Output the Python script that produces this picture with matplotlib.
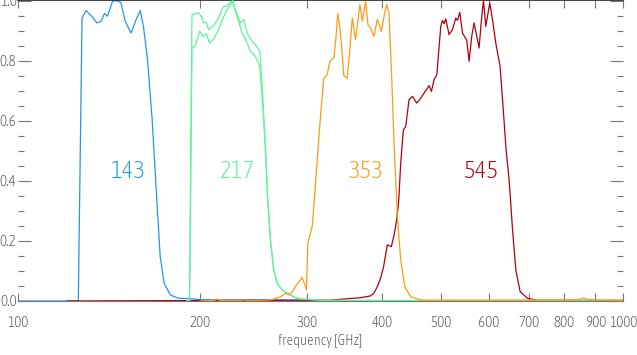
import matplotlib
matplotlib.use("Agg")
import matplotlib.pyplot as plt
from matplotlib.ticker import FixedLocator, MultipleLocator, NullLocator
import matplotlib.font_manager as fm

# ---------------- data ----------------
f143 = [100, 125.0, 125.8, 127.6, 129.6, 132.4, 135.0, 137.1, 139.0, 140.6, 143.3, 145.3,
        147.9, 150.4, 153.7, 156.8, 159.2, 161.2, 163.7, 166.5, 169.6, 171.8, 174.4,
        178.6, 184.3, 192.7, 200.1, 260, 330, 1000]
t143 = [0.0, 0.0, 0.003, 0.942, 0.967, 0.948, 0.926, 0.931, 0.957, 0.948, 0.998, 1.0,
        0.994, 0.931, 0.892, 0.937, 0.967, 0.914, 0.803, 0.614, 0.337, 0.148, 0.059,
        0.020, 0.009, 0.008, 0.004, 0.004, 0.001, 0.001]

f217a = [190.0, 192.1, 193.9, 198.9, 201.5, 202.7, 204.8, 206.6, 210.6, 214.6, 218.2,
         221.6, 224.4, 226.4, 228.7, 233.1, 236.1, 239.2, 243.8, 246.9, 251.0, 253.3,
         256.5, 258.7, 261.4, 264.7, 268.1, 273.3, 278.6, 287.5, 293.0, 320, 1000]
t217a = [0.0, 0.0, 0.953, 0.959, 0.942, 0.926, 0.928, 0.903, 0.917, 0.942, 0.979,
         0.983, 0.994, 1.0, 0.970, 0.926, 0.937, 0.892, 0.864, 0.853, 0.831, 0.714,
         0.503, 0.337, 0.203, 0.103, 0.059, 0.037, 0.026, 0.011, 0.007, 0.002, 0.0]

f217b = [190.0, 192.1, 193.9, 196.3, 199.6, 202.2, 204.8, 207.2, 210.6, 214.6, 217.4,
         220.2, 224.4, 226.4, 230.2, 234.7, 239.2, 242.2, 246.9, 251.0, 254.2,
         256.5, 258.7, 261.4, 264.7, 268.1, 273.3, 278.6, 287.5, 293.0, 320, 1000]
t217b = [0.0, 0.0, 0.842, 0.848, 0.898, 0.881, 0.890, 0.859, 0.872, 0.903, 0.934,
         0.959, 0.987, 0.997, 0.948, 0.892, 0.859, 0.831, 0.814, 0.781, 0.633,
         0.503, 0.337, 0.203, 0.103, 0.059, 0.037, 0.026, 0.011, 0.007, 0.002, 0.0]

f353 = [200, 211, 213, 216, 233, 236, 240, 262, 271.6, 276.8, 280.3, 284.0, 287.5, 291.2,
        294.9, 298.7, 299.8, 301.3, 306.4, 308.3, 312.3, 316.2, 320.2, 324.4, 327.6,
        332.7, 334.8, 337.8, 341.3, 345.6, 350.1, 353.6, 356.9, 361.4, 367.4, 370.8,
        375.5, 378.8, 382.7, 387.5, 392.6, 398.6, 403.7, 406.8, 410.4, 414.6, 418.3,
        423.7, 429.1, 435.7, 445.8, 463.1, 520, 600, 840, 855, 862, 870, 900, 1000]
t353 = [0.0, 0.002, 0.006, 0.002, 0.002, 0.004, 0.001, 0.004, 0.014, 0.026, 0.020,
        0.031, 0.048, 0.064, 0.078, 0.048, 0.037, 0.192, 0.248, 0.314, 0.470, 0.614,
        0.742, 0.753, 0.798, 0.809, 0.859, 0.957, 0.892, 0.750, 0.742, 0.837, 0.942,
        0.870, 0.987, 0.931, 0.997, 0.920, 0.909, 0.881, 0.937, 0.898, 0.959, 0.987,
        0.959, 0.748, 0.526, 0.281, 0.137, 0.048, 0.014, 0.003, 0.003, 0.003, 0.004,
        0.008, 0.010, 0.006, 0.003, 0.003]

f545 = [120.6, 328.5, 368.4, 382.7, 387.5, 392.6, 397.5, 402.0, 407.8, 414.1, 418.5,
        422.6, 426.0, 429.1, 433.5, 437.4, 442.9, 448.7, 456.1, 461.9, 469.0, 478.0,
        482.4, 487.2, 492.3, 499.8, 503.0, 506.1, 509.4, 515.8, 522.5, 529.2, 532.6,
        537.3, 542.9, 551.8, 556.7, 562.3, 567.3, 574.6, 578.2, 583.5, 588.0, 593.2,
        602.3, 608.5, 616.2, 626.4, 634.6, 640.9, 648.3, 656.8, 665.1, 676.1, 695.4,
        722.4, 1000]
t545 = [0.0, 0.003, 0.011, 0.017, 0.026, 0.048, 0.076, 0.114, 0.187, 0.181, 0.220,
        0.270, 0.337, 0.459, 0.570, 0.581, 0.670, 0.681, 0.659, 0.672, 0.692, 0.717,
        0.698, 0.737, 0.753, 0.914, 0.934, 0.923, 0.939, 0.887, 0.903, 0.942, 0.934,
        0.961, 0.892, 0.868, 0.798, 0.881, 0.926, 0.870, 0.842, 0.937, 1.0, 0.914,
        0.992, 0.937, 0.859, 0.781, 0.625, 0.503, 0.403, 0.237, 0.103, 0.031, 0.009,
        0.002, 0.002]

band_names = ["143", "217", "353", "545"]
band_label_x = [152.1, 230.9, 376.0, 582.0]
band_label_y = 0.43
band_colors = ["#2296f3", "#5cf59a", "#ff9a14", "#b0000f"]

x_ticks = [100, 200, 300, 400, 500, 600, 700, 800, 900, 1000]
x_ticklabels = ["100", "200", "300", "400", "500", "600", "700", "800", "900", "1000"]
y_ticks = [0.0, 0.2, 0.4, 0.6, 0.8, 1.0]
y_ticklabels = ["0.0", "0.2", "0.4", "0.6", "0.8", "1.0"]

# ---------------- fonts: look for a condensed (ideally light) face ----------------
def pick_font():
    best = None
    best_score = -1
    for f in fm.fontManager.ttflist:
        st = str(f.stretch).lower()
        name = f.name.lower()
        cond = ("condensed" in st or "narrow" in name or "condensed" in name
                or st in ("semi-condensed", "extra-condensed", "ultra-condensed"))
        if isinstance(f.stretch, int) and f.stretch < 500:
            cond = True
        if not cond or f.style != "normal":
            continue
        w = f.weight if isinstance(f.weight, int) else {"light": 300, "normal": 400,
                                                           "regular": 400, "book": 400,
                                                           "medium": 500, "bold": 700}.get(str(f.weight).lower(), 400)
        score = 10
        if w <= 300:
            score += 5
        elif w == 400:
            score += 3
        elif w > 500:
            score -= 5
        if score > best_score:
            best_score = score
            best = f.fname
    return best

fpath = pick_font()
if fpath:
    def FP(size):
        return fm.FontProperties(fname=fpath, size=size)
else:
    def FP(size):
        return fm.FontProperties(family=["Roboto", "DejaVu Sans"], weight="light", size=size)

# ---------------- figure ----------------
W, H = 637, 355
fig = plt.figure(figsize=(W / 100, H / 100), dpi=100)
ax = fig.add_axes([18 / W, 1 - 301 / H, (623 - 18) / W, 301 / H])
ax.set_xscale("log")
ax.set_xlim(100, 1000)
ax.set_ylim(0, 1.002)

lw = 0.9
ax.plot(f143, t143, color=band_colors[0], lw=lw, zorder=2)
ax.plot(f545, t545, color=band_colors[3], lw=lw, zorder=3)
ax.plot(f217a, t217a, color=band_colors[1], lw=lw, zorder=4)
ax.plot(f217b, t217b, color=band_colors[1], lw=lw, zorder=4)
ax.plot(f353, t353, color=band_colors[2], lw=lw, zorder=5)

for name, xx, c in zip(band_names, band_label_x, band_colors):
    ax.text(xx, band_label_y, name, color=c, ha="center", va="center",
            fontproperties=FP(18))

tick_col = "#777777"
lab_col = "#555555"
ax.xaxis.set_major_locator(FixedLocator(x_ticks))
ax.xaxis.set_minor_locator(NullLocator())
ax.set_xticklabels(x_ticklabels)
ax.yaxis.set_major_locator(FixedLocator(y_ticks))
ax.yaxis.set_minor_locator(MultipleLocator(0.05))
ax.set_yticklabels(y_ticklabels)

ax.tick_params(axis="x", which="major", direction="in", length=5.5, width=0.8,
               colors=tick_col, labelcolor=lab_col, top=True, pad=11)
ax.tick_params(axis="y", which="major", direction="in", length=9.5, width=0.8,
               colors=tick_col, labelcolor=lab_col, right=True, pad=1.0)
ax.tick_params(axis="y", which="minor", direction="in", length=4.5, width=0.8,
               colors=tick_col, right=True)
for lab in ax.get_xticklabels() + ax.get_yticklabels():
    lab.set_fontproperties(FP(11))

for s in ["left", "right"]:
    ax.spines[s].set_visible(False)
ax.spines["top"].set_color("#222222")
ax.spines["top"].set_linewidth(1.2)
ax.spines["bottom"].set_color(tick_col)
ax.spines["bottom"].set_linewidth(0.8)

ax.set_xlabel("frequency [GHz]", color=lab_col, labelpad=3, fontproperties=FP(10.5))

fig.savefig("out.png", dpi=100)
